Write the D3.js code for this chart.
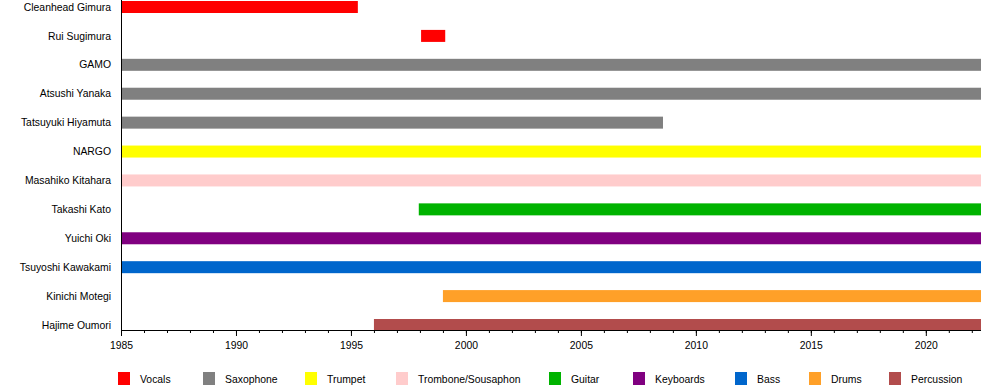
<!DOCTYPE html>
<html>
<head>
<meta charset="utf-8">
<script src="https://cdn.jsdelivr.net/npm/d3@7"></script>
<style>
  body { margin: 0; background: #fff; }
  text { font-family: "Liberation Sans", Arial, sans-serif; font-size: 10.4px; fill: #000; }
</style>
</head>
<body>
<svg id="chart" width="1000" height="390"></svg>
<script>
// members, top to bottom
const MEMBERS = [
  'Cleanhead Gimura', 'Rui Sugimura', 'GAMO', 'Atsushi Yanaka', 'Tatsuyuki Hiyamuta',
  'NARGO', 'Masahiko Kitahara', 'Takashi Kato', 'Yuichi Oki', 'Tsuyoshi Kawakami',
  'Kinichi Motegi', 'Hajime Oumori',
];
const ROLES = ['Vocals', 'Saxophone', 'Trumpet', 'Trombone/Sousaphon', 'Guitar', 'Keyboards', 'Bass', 'Drums', 'Percussion'];
const ROLE_COLORS = ['#ff0000', '#808080', '#ffff00', '#ffcccc', '#00b300', '#800080', '#0066cc', '#ffa028', '#b24c4c'];

const PERIODS = [
  { member: 'Cleanhead Gimura', role: 'Vocals', from: 1985, to: 1995.3 },
  { member: 'Rui Sugimura', role: 'Vocals', from: 1998.05, to: 1999.1 },
  { member: 'GAMO', role: 'Saxophone', from: 1985, to: 2022.4 },
  { member: 'Atsushi Yanaka', role: 'Saxophone', from: 1985, to: 2022.4 },
  { member: 'Tatsuyuki Hiyamuta', role: 'Saxophone', from: 1985, to: 2008.57 },
  { member: 'NARGO', role: 'Trumpet', from: 1985, to: 2022.4 },
  { member: 'Masahiko Kitahara', role: 'Trombone/Sousaphon', from: 1985, to: 2022.4 },
  { member: 'Takashi Kato', role: 'Guitar', from: 1997.95, to: 2022.4 },
  { member: 'Yuichi Oki', role: 'Keyboards', from: 1985, to: 2022.4 },
  { member: 'Tsuyoshi Kawakami', role: 'Bass', from: 1985, to: 2022.4 },
  { member: 'Kinichi Motegi', role: 'Drums', from: 1999, to: 2022.4 },
  { member: 'Hajime Oumori', role: 'Percussion', from: 1996, to: 2022.4 },
];

const START = 1985, END = 2022.4;
const MAJOR = d3.range(1985, 2021, 5);
const MINOR = d3.range(1985, 2023, 1);

// layout
const plotLeft = 121, plotRight = 981, plotTop = 0, axisY = 330;
const barH = 12;
const legendX = [118, 203, 305, 396, 549, 633, 735, 809, 889];
const legendY = 372;

const svg = d3.select('#chart');

const x = d3.scaleLinear().domain([START, END]).range([plotLeft, plotRight]);
const y = d3.scalePoint().domain(MEMBERS).range([7, 325]);
const color = d3.scaleOrdinal().domain(ROLES).range(ROLE_COLORS);

// bars
svg.append('g')
  .selectAll('rect')
  .data(PERIODS)
  .enter()
  .append('rect')
  .attr('x', (d) => x(d.from))
  .attr('y', (d) => y(d.member) - barH / 2)
  .attr('width', (d) => x(d.to) - x(d.from))
  .attr('height', barH)
  .attr('fill', (d) => color(d.role));

// member labels
svg.append('g')
  .selectAll('text')
  .data(MEMBERS)
  .enter()
  .append('text')
  .attr('x', plotLeft - 10)
  .attr('y', (d) => y(d))
  .attr('dy', '0.35em')
  .attr('text-anchor', 'end')
  .text((d) => d);

// left axis line
svg.append('line')
  .attr('x1', plotLeft + 0.5).attr('x2', plotLeft + 0.5)
  .attr('y1', plotTop).attr('y2', axisY)
  .attr('stroke', '#000');

// time axis
const minorAxis = d3.axisBottom(x).tickValues(MINOR).tickSize(3).tickFormat('');
svg.append('g')
  .attr('transform', `translate(0,${axisY})`)
  .call(minorAxis)
  .call((g) => g.select('.domain').remove());

const majorAxis = d3.axisBottom(x).tickValues(MAJOR).tickSize(6).tickPadding(6).tickFormat(d3.format('d'));
svg.append('g')
  .attr('transform', `translate(0,${axisY})`)
  .call(majorAxis)
  .call((g) => g.select('.domain').attr('d', `M${plotLeft},0.5H${plotRight}`))
  .call((g) => g.selectAll('text').style('font-family', '"Liberation Sans", Arial, sans-serif').style('font-size', '10.4px'));

// legend
const legend = svg.append('g')
  .selectAll('g')
  .data(ROLES)
  .enter()
  .append('g')
  .attr('transform', (d, i) => `translate(${legendX[i]},${legendY})`);

legend.append('rect')
  .attr('width', 12)
  .attr('height', 13)
  .attr('fill', (d) => color(d));

legend.append('text')
  .attr('x', 22)
  .attr('y', 7)
  .attr('dy', '0.35em')
  .text((d) => d);
</script>
</body>
</html>
